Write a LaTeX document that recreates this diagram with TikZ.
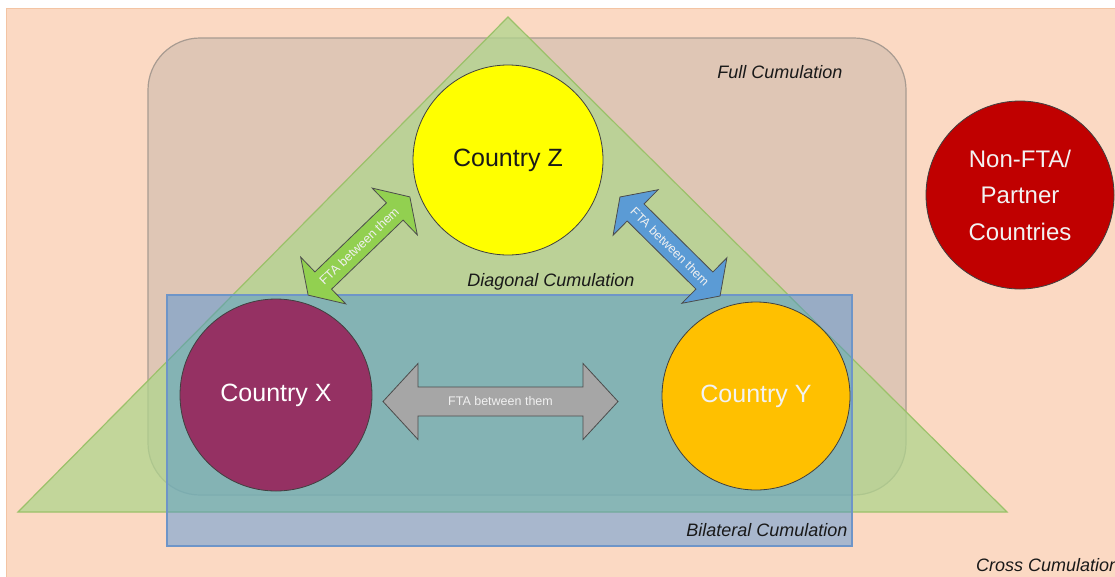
\documentclass[tikz,border=0pt]{standalone}
\usepackage{fontspec}
\setmainfont{Liberation Sans}
\definecolor{peach}{HTML}{FBD9C3}
\definecolor{peachline}{HTML}{F3C4A3}
\definecolor{tanfill}{HTML}{DFC6B5}
\definecolor{tanline}{HTML}{A89B91}
\definecolor{trifill}{HTML}{B0D58D}
\definecolor{triline}{HTML}{9BC16A}
\definecolor{bluefill}{HTML}{3C8CDC}
\definecolor{blueline}{HTML}{6E95C8}
\definecolor{ftagreen}{HTML}{92D050}
\definecolor{ftablue}{HTML}{5B9BD5}
\definecolor{ftagray}{HTML}{A6A6A6}
\definecolor{cxcol}{HTML}{953163}
\definecolor{cycol}{HTML}{FFC000}
\definecolor{czcol}{HTML}{FFFF00}
\definecolor{cncol}{HTML}{C00000}
\newcommand\ftaarrow[8]{%
\begin{scope}[shift={#2},rotate=#3]
\draw[arrowshape,fill=#8] ({-#4},0) -- ({-#4+#7},{#5}) -- ({-#4+#7},{#6}) -- ({#4-#7},{#6}) -- ({#4-#7},{#5}) -- ({#4},0) -- ({#4-#7},{-#5}) -- ({#4-#7},{-#6}) -- ({-#4+#7},{-#6}) -- ({-#4+#7},{-#5}) -- cycle;
\node[ftatext,rotate=#3] (#1) at (0,0) {FTA between them};
\end{scope}}
\begin{document}
\begin{tikzpicture}[x=1pt,y=-1pt,
  circ/.style={circle,draw=black!75,line width=0.8pt,inner sep=0pt},
  ctext/.style={font=\fontsize{25}{30}\selectfont},
  lbl/.style={font=\fontsize{18}{22}\selectfont\itshape,text=black!90,inner sep=0pt},
  arrowshape/.style={draw=black!70,line width=0.8pt,line join=miter},
  ftatext/.style={font=\fontsize{12.5}{15}\selectfont,text=white!94!black,inner sep=0pt}]
\useasboundingbox (0,0) rectangle (1115,576);
\fill[white] (0,0) rectangle (1115,576);
\draw[fill=peach,draw=peachline,line width=1pt] (6,8) rectangle (1125,586);
\draw[fill=tanfill,draw=tanline,line width=1.2pt,rounded corners=52pt] (148,38) rectangle (906,495);
\draw[fill=trifill,fill opacity=0.75,draw=triline,line width=1.2pt] (18,512) -- (508,17) -- (1007,512) -- cycle;
\draw[fill=bluefill,fill opacity=0.43,draw=blueline,line width=1.2pt] (167,295) rectangle (852,546);
\ftaarrow{fta1}{(359,246)}{44}{70.7}{32.5}{12}{21}{ftagreen}
\ftaarrow{fta2}{(670,246.5)}{-44.7}{70.4}{32}{12}{22}{ftablue}
\ftaarrow{fta3}{(500.5,401.5)}{0}{117.5}{38}{14.5}{35}{ftagray}
\node[circ,fill=czcol,minimum size=190pt,ctext,text=black!90] (cz) at (508,160) {Country Z};
\node[circ,fill=cxcol,minimum size=192pt,ctext,text=white] (cx) at (276,395) {Country X};
\node[circ,fill=cycol,minimum size=188pt,ctext,text=white!95!black] (cy) at (756,396) {Country Y};
\node[circ,fill=cncol,minimum size=188pt,align=center,text=white!95!black,font=\fontsize{24}{36.5}\selectfont] (cn) at (1020,195) {Non-FTA/\\Partner\\Countries};
\node[lbl] (lfull) at (780,72) {Full Cumulation};
\node[lbl] (ldiag) at (551,282) {Diagonal Cumulation};
\node[lbl] (lbil) at (767,530) {Bilateral Cumulation};
\node[lbl,anchor=west] (lcross) at (976,565) {Cross Cumulation};
\end{tikzpicture}
\end{document}
